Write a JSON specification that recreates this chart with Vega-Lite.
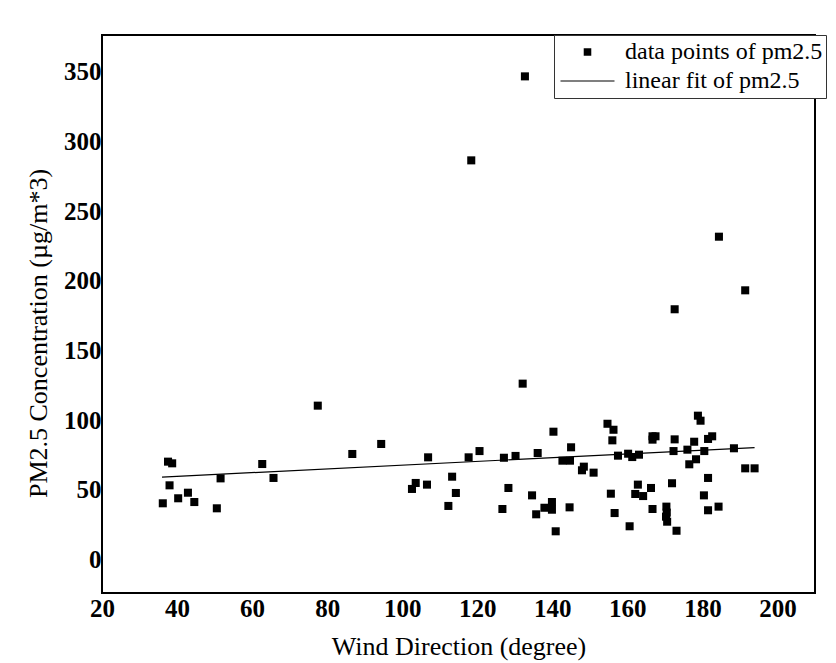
{
  "$schema": "https://vega.github.io/schema/vega-lite/v6.json",
  "width": 713,
  "height": 558,
  "autosize": "none",
  "padding": {"left": 102, "top": 35, "right": 21, "bottom": 70},
  "background": "white",
  "config": {
    "view": {"stroke": "black", "strokeWidth": 2},
    "font": "Times New Roman, Liberation Serif, serif",
    "axis": {
      "grid": false,
      "ticks": false,
      "domain": false,
      "labelFont": "Times New Roman, Liberation Serif, serif",
      "labelFontWeight": "bold",
      "labelFontSize": 25,
      "labelColor": "black",
      "labelFlush": false,
      "labelOverlap": false,
      "labelBound": false,
      "titleFont": "Times New Roman, Liberation Serif, serif",
      "titleFontWeight": "normal",
      "titleFontSize": 26,
      "titleColor": "black"
    }
  },
  "datasets": {
    "points": [
      {"wd": 37.6, "pm": 70.1, "s": "data points of pm2.5"},
      {"wd": 38.7, "pm": 68.9, "s": "data points of pm2.5"},
      {"wd": 38.0, "pm": 53.1, "s": "data points of pm2.5"},
      {"wd": 36.2, "pm": 40.2, "s": "data points of pm2.5"},
      {"wd": 40.3, "pm": 43.8, "s": "data points of pm2.5"},
      {"wd": 42.9, "pm": 47.8, "s": "data points of pm2.5"},
      {"wd": 44.6, "pm": 41.1, "s": "data points of pm2.5"},
      {"wd": 50.6, "pm": 36.6, "s": "data points of pm2.5"},
      {"wd": 51.6, "pm": 58.1, "s": "data points of pm2.5"},
      {"wd": 62.7, "pm": 68.4, "s": "data points of pm2.5"},
      {"wd": 65.7, "pm": 58.4, "s": "data points of pm2.5"},
      {"wd": 77.5, "pm": 110.3, "s": "data points of pm2.5"},
      {"wd": 86.7, "pm": 75.6, "s": "data points of pm2.5"},
      {"wd": 94.4, "pm": 82.8, "s": "data points of pm2.5"},
      {"wd": 106.9, "pm": 73.2, "s": "data points of pm2.5"},
      {"wd": 103.6, "pm": 54.8, "s": "data points of pm2.5"},
      {"wd": 102.6, "pm": 50.5, "s": "data points of pm2.5"},
      {"wd": 106.6, "pm": 53.6, "s": "data points of pm2.5"},
      {"wd": 112.3, "pm": 38.3, "s": "data points of pm2.5"},
      {"wd": 113.3, "pm": 59.3, "s": "data points of pm2.5"},
      {"wd": 114.3, "pm": 47.6, "s": "data points of pm2.5"},
      {"wd": 117.7, "pm": 73.2, "s": "data points of pm2.5"},
      {"wd": 120.6, "pm": 77.7, "s": "data points of pm2.5"},
      {"wd": 127.1, "pm": 72.9, "s": "data points of pm2.5"},
      {"wd": 130.2, "pm": 74.2, "s": "data points of pm2.5"},
      {"wd": 128.3, "pm": 51.2, "s": "data points of pm2.5"},
      {"wd": 126.7, "pm": 36.1, "s": "data points of pm2.5"},
      {"wd": 136.1, "pm": 76.3, "s": "data points of pm2.5"},
      {"wd": 134.6, "pm": 45.9, "s": "data points of pm2.5"},
      {"wd": 140.3, "pm": 91.6, "s": "data points of pm2.5"},
      {"wd": 145.0, "pm": 80.4, "s": "data points of pm2.5"},
      {"wd": 142.7, "pm": 70.8, "s": "data points of pm2.5"},
      {"wd": 144.7, "pm": 70.8, "s": "data points of pm2.5"},
      {"wd": 148.4, "pm": 66.5, "s": "data points of pm2.5"},
      {"wd": 147.9, "pm": 63.9, "s": "data points of pm2.5"},
      {"wd": 151.0, "pm": 62.2, "s": "data points of pm2.5"},
      {"wd": 135.7, "pm": 32.3, "s": "data points of pm2.5"},
      {"wd": 137.9, "pm": 37.0, "s": "data points of pm2.5"},
      {"wd": 139.9, "pm": 41.1, "s": "data points of pm2.5"},
      {"wd": 139.9, "pm": 35.6, "s": "data points of pm2.5"},
      {"wd": 144.6, "pm": 37.3, "s": "data points of pm2.5"},
      {"wd": 140.9, "pm": 20.1, "s": "data points of pm2.5"},
      {"wd": 154.7, "pm": 97.3, "s": "data points of pm2.5"},
      {"wd": 156.3, "pm": 93.0, "s": "data points of pm2.5"},
      {"wd": 156.0, "pm": 85.4, "s": "data points of pm2.5"},
      {"wd": 157.5, "pm": 74.4, "s": "data points of pm2.5"},
      {"wd": 160.2, "pm": 75.8, "s": "data points of pm2.5"},
      {"wd": 161.3, "pm": 73.4, "s": "data points of pm2.5"},
      {"wd": 163.1, "pm": 75.1, "s": "data points of pm2.5"},
      {"wd": 166.7, "pm": 88.3, "s": "data points of pm2.5"},
      {"wd": 167.5, "pm": 88.3, "s": "data points of pm2.5"},
      {"wd": 166.7, "pm": 85.9, "s": "data points of pm2.5"},
      {"wd": 172.6, "pm": 86.1, "s": "data points of pm2.5"},
      {"wd": 172.3, "pm": 77.7, "s": "data points of pm2.5"},
      {"wd": 176.0, "pm": 78.7, "s": "data points of pm2.5"},
      {"wd": 176.5, "pm": 68.2, "s": "data points of pm2.5"},
      {"wd": 155.6, "pm": 47.1, "s": "data points of pm2.5"},
      {"wd": 162.8, "pm": 53.6, "s": "data points of pm2.5"},
      {"wd": 166.3, "pm": 51.2, "s": "data points of pm2.5"},
      {"wd": 162.1, "pm": 46.9, "s": "data points of pm2.5"},
      {"wd": 164.2, "pm": 45.4, "s": "data points of pm2.5"},
      {"wd": 171.9, "pm": 54.6, "s": "data points of pm2.5"},
      {"wd": 156.6, "pm": 33.2, "s": "data points of pm2.5"},
      {"wd": 166.7, "pm": 36.1, "s": "data points of pm2.5"},
      {"wd": 170.4, "pm": 37.8, "s": "data points of pm2.5"},
      {"wd": 170.5, "pm": 33.5, "s": "data points of pm2.5"},
      {"wd": 170.3, "pm": 30.6, "s": "data points of pm2.5"},
      {"wd": 170.6, "pm": 27.0, "s": "data points of pm2.5"},
      {"wd": 160.6, "pm": 23.7, "s": "data points of pm2.5"},
      {"wd": 173.1, "pm": 20.5, "s": "data points of pm2.5"},
      {"wd": 178.8, "pm": 103.1, "s": "data points of pm2.5"},
      {"wd": 179.5, "pm": 99.5, "s": "data points of pm2.5"},
      {"wd": 177.8, "pm": 84.4, "s": "data points of pm2.5"},
      {"wd": 181.5, "pm": 86.4, "s": "data points of pm2.5"},
      {"wd": 182.6, "pm": 88.3, "s": "data points of pm2.5"},
      {"wd": 180.5, "pm": 77.7, "s": "data points of pm2.5"},
      {"wd": 178.3, "pm": 71.8, "s": "data points of pm2.5"},
      {"wd": 188.4, "pm": 79.7, "s": "data points of pm2.5"},
      {"wd": 191.4, "pm": 65.3, "s": "data points of pm2.5"},
      {"wd": 193.9, "pm": 65.3, "s": "data points of pm2.5"},
      {"wd": 181.5, "pm": 58.4, "s": "data points of pm2.5"},
      {"wd": 180.4, "pm": 45.9, "s": "data points of pm2.5"},
      {"wd": 181.5, "pm": 35.2, "s": "data points of pm2.5"},
      {"wd": 184.3, "pm": 37.8, "s": "data points of pm2.5"},
      {"wd": 132.7, "pm": 346.7, "s": "data points of pm2.5"},
      {"wd": 118.4, "pm": 286.4, "s": "data points of pm2.5"},
      {"wd": 191.4, "pm": 193.1, "s": "data points of pm2.5"},
      {"wd": 184.4, "pm": 231.6, "s": "data points of pm2.5"},
      {"wd": 172.6, "pm": 179.5, "s": "data points of pm2.5"},
      {"wd": 132.1, "pm": 126.1, "s": "data points of pm2.5"}
    ],
    "fit": [
      {"wd": 36.0, "pm": 59.0},
      {"wd": 193.9, "pm": 80.2}
    ]
  },
  "layer": [
    {
      "data": {"name": "points"},
      "mark": {"type": "point", "filled": true, "color": "black", "opacity": 1, "size": 3300, "strokeWidth": 0},
      "encoding": {
        "x": {
          "field": "wd", "type": "quantitative",
          "scale": {"domain": [20, 210], "nice": false, "zero": false},
          "axis": {"values": [20, 40, 60, 80, 100, 120, 140, 160, 180, 200], "title": "Wind Direction (degree)", "labelPadding": 3, "titlePadding": 12}
        },
        "y": {
          "field": "pm", "type": "quantitative",
          "scale": {"domain": [-24.2, 376.4], "nice": false, "zero": false},
          "axis": {"values": [0, 50, 100, 150, 200, 250, 300, 350], "title": "PM2.5 Concentration (µg/m*3)", "labelPadding": 1, "titlePadding": 12, "titleY": 298}
        },
        "shape": {
          "field": "s", "type": "nominal",
          "scale": {"domain": ["data points of pm2.5", "linear fit of pm2.5"], "range": ["M-0.14,-0.14H0.14V0.14H-0.14Z", "M-1,-0.022H1V0.022H-1Z"]},
          "legend": {
            "title": null,
            "orient": "none",
            "legendX": 452,
            "legendY": 0,
            "columns": 1,
            "padding": 3.5,
            "rowPadding": 2,
            "clipHeight": 27,
            "symbolSize": 2916,
            "symbolOffset": 2,
            "labelOffset": 9.5,
            "labelFont": "Times New Roman, Liberation Serif, serif",
            "labelFontSize": 24,
            "labelFontWeight": "normal",
            "labelColor": "black",
            "labelLimit": 400,
            "strokeColor": "#333333",
            "fillColor": "white",
            "encode": {
              "legend": {"update": {"strokeWidth": {"value": 1.5}}},
              "symbols": {"update": {"fill": {"value": "black"}, "stroke": {"value": "black"}, "strokeWidth": {"value": 0.6}, "opacity": {"value": 1}}}
            }
          }
        }
      }
    },
    {
      "data": {"name": "fit"},
      "mark": {"type": "line", "color": "black", "strokeWidth": 1.2},
      "encoding": {
        "x": {"field": "wd", "type": "quantitative"},
        "y": {"field": "pm", "type": "quantitative"}
      }
    }
  ]
}
